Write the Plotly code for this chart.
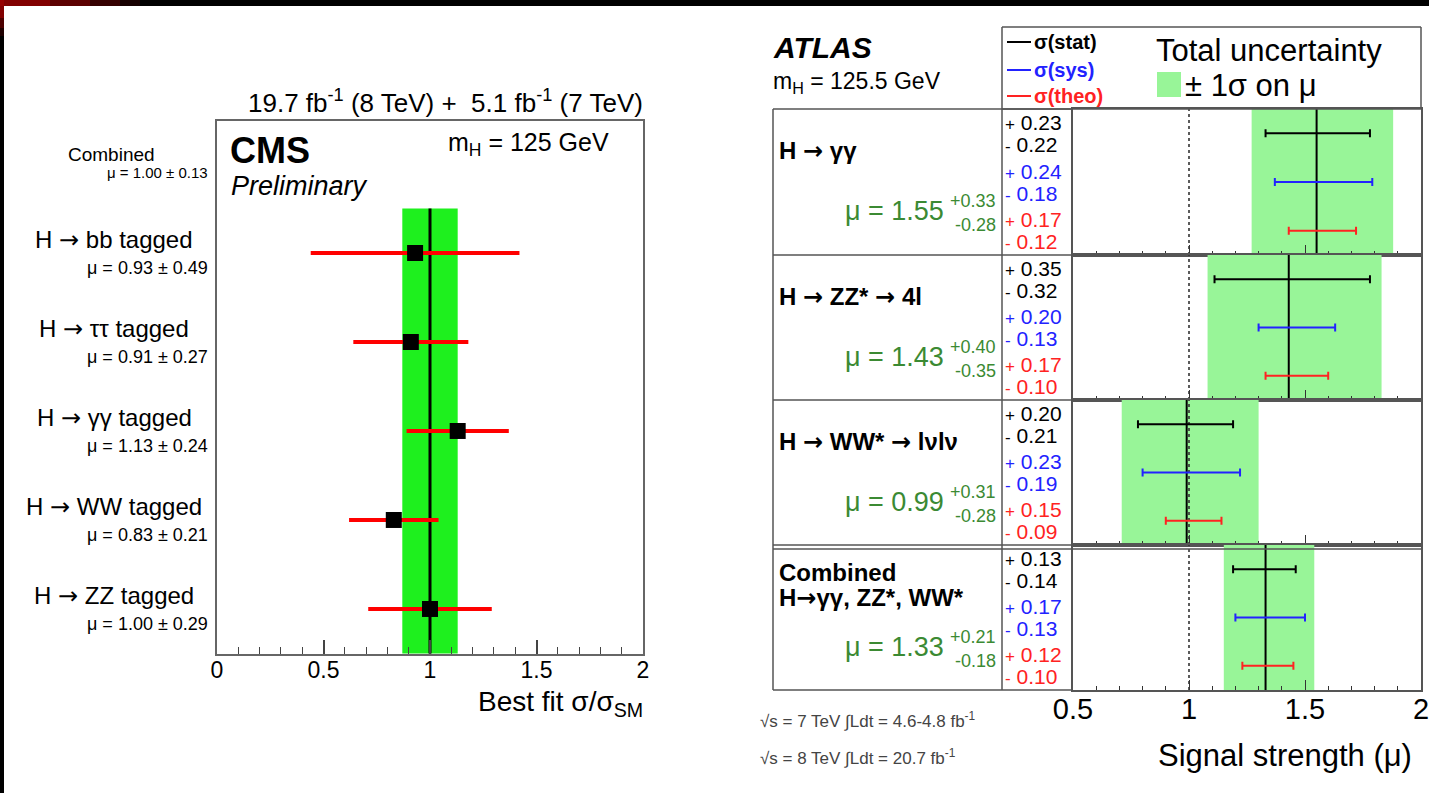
import plotly.graph_objects as go

W, H = 1429, 793
FONT = "Liberation Sans, Arial, Helvetica, sans-serif"
ARROW = "<span style='font-family:DejaVu Sans'>→</span>"

# ---------------- CMS data ----------------
cms_channels = ["H → bb tagged", "H → ττ tagged", "H → γγ tagged", "H → WW tagged", "H → ZZ tagged"]
cms_mu = [0.93, 0.91, 1.13, 0.83, 1.00]
cms_err = [0.49, 0.27, 0.24, 0.21, 0.29]
cms_comb_label = "Combined"
cms_comb_mu = 1.00
cms_comb_err = 0.13
cms_ticks = [0, 0.5, 1, 1.5, 2]

# ---------------- ATLAS data ----------------
atlas_channels = ["H → γγ", "H → ZZ* → 4l", "H → WW* → lνlν", "Combined|H→γγ, ZZ*, WW*"]
atlas_mu = [1.55, 1.43, 0.99, 1.33]
atlas_tot_up = [0.33, 0.40, 0.31, 0.21]
atlas_tot_dn = [0.28, 0.35, 0.28, 0.18]
atlas_stat_up = [0.23, 0.35, 0.20, 0.13]
atlas_stat_dn = [0.22, 0.32, 0.21, 0.14]
atlas_sys_up = [0.24, 0.20, 0.23, 0.17]
atlas_sys_dn = [0.18, 0.13, 0.19, 0.13]
atlas_theo_up = [0.17, 0.17, 0.15, 0.12]
atlas_theo_dn = [0.12, 0.10, 0.09, 0.10]
atlas_ticks = [0.5, 1, 1.5, 2]
atlas_sm = 1.0

CMS_GREEN = "#1ef01e"
ATLAS_GREEN = "#98f598"
MU_GREEN = "#3b8a33"
BLUE = "#2222ff"
RED = "#ff2222"
LINE = "#555555"


def px(x):
    return x / W


def py(y):
    return 1 - y / H


def arrows(s):
    return s.replace("→", ARROW)


fig = go.Figure()
annotations = []
shapes = []


def ann(text, x, y, size, color="black", xanchor="left", yanchor="middle", **kw):
    d = dict(text=text, x=px(x), y=py(y), xref="paper", yref="paper", showarrow=False,
             font=dict(size=size, color=color, family=FONT), xanchor=xanchor, yanchor=yanchor)
    d.update(kw)
    annotations.append(d)


# ================= CMS panel =================
n = len(cms_channels)
cms_rows = [n - 1 - i for i in range(n)]
y_lo, y_hi = -0.5, n - 0.5
lo = cms_comb_mu - cms_comb_err
hi = cms_comb_mu + cms_comb_err
fig.add_trace(go.Scatter(x=[lo, hi, hi, lo, lo], y=[y_lo, y_lo, y_hi, y_hi, y_lo], fill="toself",
                         fillcolor=CMS_GREEN, mode="lines", line=dict(width=0),
                         xaxis="x", yaxis="y", hoverinfo="skip"))
fig.add_trace(go.Scatter(x=[cms_comb_mu, cms_comb_mu], y=[y_lo, y_hi], mode="lines",
                         line=dict(color="black", width=3), xaxis="x", yaxis="y", hoverinfo="skip"))
fig.add_trace(go.Scatter(x=cms_mu, y=cms_rows, mode="markers",
                         marker=dict(symbol="square", size=16, color="black"),
                         error_x=dict(type="data", array=cms_err, color="#ff0000", thickness=4, width=0),
                         xaxis="x", yaxis="y"))

for ch, mu, e, r in zip(cms_channels, cms_mu, cms_err, cms_rows):
    annotations.append(dict(text=arrows(ch), x=px(114), y=r, xref="paper", yref="y", showarrow=False,
                            xanchor="center", yanchor="middle", yshift=13,
                            font=dict(size=24, family=FONT, color="black")))
    annotations.append(dict(text=f"μ = {mu:.2f} ± {e:.2f}", x=px(210), y=r, xref="paper", yref="y",
                            showarrow=False, xanchor="right", yanchor="middle", yshift=-15,
                            font=dict(size=18, family=FONT, color="black")))
annotations.append(dict(text=cms_comb_label, x=px(111), y=n, xref="paper", yref="y", showarrow=False,
                        xanchor="center", yanchor="middle", yshift=9,
                        font=dict(size=19, family=FONT, color="black")))
annotations.append(dict(text=f"μ = {cms_comb_mu:.2f} ± {cms_comb_err:.2f}", x=px(210), y=n, xref="paper",
                        yref="y", showarrow=False, xanchor="right", yanchor="middle", yshift=-9,
                        font=dict(size=15, family=FONT, color="black")))

ann("19.7 fb<sup>-1</sup> (8 TeV) +  5.1 fb<sup>-1</sup> (7 TeV)", 645, 102, 26, xanchor="right")
ann("<b>CMS</b>", 228, 150, 36)
ann("<i>Preliminary</i>", 229, 186, 27)
ann("m<sub>H</sub> = 125 GeV", 446, 144, 25)
ann("Best fit σ/σ<sub>SM</sub>", 645, 703, 28, xanchor="right")

cms_layout = dict(
    xaxis=dict(domain=[px(217), px(643)], range=[0, 2], anchor="y", tickvals=cms_ticks,
               ticktext=[f"{t:g}" for t in cms_ticks], ticks="inside", ticklen=14, tickwidth=1.5,
               tickcolor="#444", minor=dict(ticks="inside", dtick=0.1, tick0=0, ticklen=7, tickwidth=1.2,
                                            tickcolor="#444", showgrid=False),
               tickfont=dict(size=23, family=FONT, color="black"), ticklabelstandoff=-5,
               showline=True, mirror=True, automargin=False,
               linecolor="#666", linewidth=1.5, showgrid=False, zeroline=False),
    yaxis=dict(domain=[py(654), py(121)], range=[-0.506, 5.483], anchor="x", showticklabels=False,
               ticks="", showline=True, mirror=True, linecolor="#666", linewidth=1.5, automargin=False,
               showgrid=False, zeroline=False),
)

# ================= ATLAS panel =================
row_tops = [109, 255, 400, 545]
row_bots = [255, 400, 545, 690]
ROW_MAX = 6
comp_y = [5, 3, 1]
comp_col = ["black", BLUE, RED]
axes_layout = {}
for i in range(len(atlas_channels)):
    k = i + 2
    xa, ya = f"x{k}", f"y{k}"
    mu = atlas_mu[i]
    blo = mu - atlas_tot_dn[i]
    bhi = mu + atlas_tot_up[i]
    fig.add_trace(go.Scatter(x=[blo, bhi, bhi, blo, blo], y=[0, 0, ROW_MAX, ROW_MAX, 0], fill="toself",
                             fillcolor=ATLAS_GREEN, mode="lines", line=dict(width=0),
                             xaxis=xa, yaxis=ya, hoverinfo="skip"))
    fig.add_trace(go.Scatter(x=[atlas_sm, atlas_sm], y=[0, ROW_MAX], mode="lines",
                             line=dict(color="#333", width=1.6, dash="dot"), xaxis=xa, yaxis=ya,
                             hoverinfo="skip"))
    fig.add_trace(go.Scatter(x=[mu, mu], y=[0, ROW_MAX], mode="lines", line=dict(color="black", width=2),
                             xaxis=xa, yaxis=ya, hoverinfo="skip"))
    comps = [(atlas_stat_up[i], atlas_stat_dn[i]), (atlas_sys_up[i], atlas_sys_dn[i]),
             (atlas_theo_up[i], atlas_theo_dn[i])]
    for (up, dn), yy, col in zip(comps, comp_y, comp_col):
        fig.add_trace(go.Scatter(x=[mu], y=[yy], mode="markers", marker=dict(size=2, color="rgba(0,0,0,0)"),
                                 error_x=dict(type="data", symmetric=False, array=[up], arrayminus=[dn],
                                              color=col, thickness=2, width=4),
                                 xaxis=xa, yaxis=ya))
        annotations.append(dict(text=f"<span style='font-size:17px'>+</span> {up:.2f}", x=px(1003), y=yy,
                                xref="paper", yref=ya, showarrow=False, xanchor="left", yanchor="middle",
                                yshift=11, font=dict(size=21, family=FONT, color=col)))
        annotations.append(dict(text=f"<span style='font-size:17px'>-</span> {dn:.2f}", x=px(1003), y=yy,
                                xref="paper", yref=ya, showarrow=False, xanchor="left", yanchor="middle",
                                yshift=-11, font=dict(size=21, family=FONT, color=col)))
    # channel label
    lines = atlas_channels[i].split("|")
    ys = [4.27] if len(lines) == 1 else [4.88, 3.8]
    for txt, yy in zip(lines, ys):
        annotations.append(dict(text=f"<b>{arrows(txt)}</b>", x=px(777), y=yy, xref="paper", yref=ya,
                                showarrow=False, xanchor="left", yanchor="middle",
                                font=dict(size=24, family=FONT, color="black")))
    annotations.append(dict(text=f"μ = {mu:.2f}", x=px(946), y=1.8, xref="paper", yref=ya, showarrow=False,
                            xanchor="right", yanchor="middle", font=dict(size=27, family=FONT, color=MU_GREEN)))
    annotations.append(dict(text=f"+{atlas_tot_up[i]:.2f}", x=px(998), y=1.8, xref="paper", yref=ya,
                            showarrow=False, xanchor="right", yanchor="middle", yshift=10,
                            font=dict(size=18, family=FONT, color=MU_GREEN)))
    annotations.append(dict(text=f"-{atlas_tot_dn[i]:.2f}", x=px(998), y=1.8, xref="paper", yref=ya,
                            showarrow=False, xanchor="right", yanchor="middle", yshift=-14,
                            font=dict(size=18, family=FONT, color=MU_GREEN)))

    axes_layout[f"xaxis{k}"] = dict(
        domain=[px(1073), px(1421)], range=[0.5, 2.0], anchor=ya, tickvals=atlas_ticks,
        ticktext=[f"{t:g}" for t in atlas_ticks], ticks="inside", ticklen=10, tickwidth=1.3,
        tickcolor="#333", minor=dict(ticks="inside", dtick=0.1, tick0=0.5, ticklen=4, tickwidth=1,
                                     tickcolor="#333", showgrid=False),
        showticklabels=(i == len(atlas_channels) - 1), automargin=False,
        ticklabeloverflow="allow", ticklabelstandoff=-8,
        tickfont=dict(size=29, family=FONT, color="black"), showline=True, mirror=True,
        linecolor=LINE, linewidth=1.5, showgrid=False, zeroline=False)
    axes_layout[f"yaxis{k}"] = dict(
        domain=[py(row_bots[i]), py(row_tops[i])], range=[0, ROW_MAX], anchor=xa, automargin=False,
        showticklabels=False, ticks="", showline=True, mirror=True, linecolor=LINE, linewidth=1.5,
        showgrid=False, zeroline=False)


def hline(x0, x1, y, color=LINE, width=1.5):
    shapes.append(dict(type="line", xref="paper", yref="paper", x0=px(x0), x1=px(x1), y0=py(y), y1=py(y),
                       line=dict(color=color, width=width)))


def vline(x, y0, y1, color=LINE, width=1.5):
    shapes.append(dict(type="line", xref="paper", yref="paper", x0=px(x), x1=px(x), y0=py(y0), y1=py(y1),
                       line=dict(color=color, width=width)))


# table grid
for yb in [109, 255, 400, 545, 690]:
    hline(773, 1073, yb)
hline(773, 1421, 549)
vline(773, 109, 690)
vline(1002, 27, 690)
hline(1002, 1421, 27)
hline(1002, 1421, 109)
vline(1421, 27, 109)

# header legend
for yy, col, lab in [(42, "black", "σ(stat)"), (70, BLUE, "σ(sys)"), (96, RED, "σ(theo)")]:
    hline(1007, 1031, yy, color=col, width=2)
    ann(f"<b>{lab}</b>", 1032, yy, 20, color=col)
shapes.append(dict(type="rect", xref="paper", yref="paper", x0=px(1157), x1=px(1181), y0=py(97), y1=py(72),
                   fillcolor=ATLAS_GREEN, line=dict(width=0)))
ann("Total uncertainty", 1154, 50, 31)
ann("± 1σ on μ", 1183, 86, 31)
ann("<b><i>ATLAS</i></b>", 771, 47, 30)
ann("m<sub>H</sub> = 125.5 GeV", 771, 82, 23)
ann("√s = 7 TeV ∫Ldt = 4.6-4.8 fb<sup>-1</sup>", 758, 720, 17, color="#444")
ann("√s = 8 TeV ∫Ldt = 20.7 fb<sup>-1</sup>", 758, 757, 17, color="#444")
ann("Signal strength (μ)", 1414, 755, 31, xanchor="right")

# slide frame (black bar + red corner)
shapes.append(dict(type="rect", xref="paper", yref="paper", x0=0, x1=1, y0=py(6), y1=1,
                   fillcolor="black", line=dict(width=0), layer="above"))
shapes.append(dict(type="rect", xref="paper", yref="paper", x0=0, x1=px(4), y0=0, y1=1,
                   fillcolor="black", line=dict(width=0), layer="above"))
for x0, x1, op in [(0, 50, 0.85), (50, 90, 0.6), (90, 120, 0.35), (120, 140, 0.15)]:
    shapes.append(dict(type="rect", xref="paper", yref="paper", x0=px(x0), x1=px(x1), y0=py(6), y1=1,
                       fillcolor="#990000", opacity=op, line=dict(width=0), layer="above"))
for y0, y1, op in [(0, 18, 0.85), (18, 28, 0.5), (28, 36, 0.2)]:
    shapes.append(dict(type="rect", xref="paper", yref="paper", x0=0, x1=px(4), y0=py(y1), y1=py(y0),
                       fillcolor="#990000", opacity=op, line=dict(width=0), layer="above"))

layout = dict(width=W, height=H, autosize=False, margin=dict(l=0, r=0, t=0, b=0, pad=0, autoexpand=False),
              paper_bgcolor="white", plot_bgcolor="white", showlegend=False, annotations=annotations,
              shapes=shapes, font=dict(family=FONT, color="black"))
layout.update(cms_layout)
layout.update(axes_layout)
fig.update_layout(**layout)

fig.write_html("out.html",
               post_script="document.body.style.margin='0';document.body.style.padding='0';"
                           "document.body.style.overflow='hidden';")
